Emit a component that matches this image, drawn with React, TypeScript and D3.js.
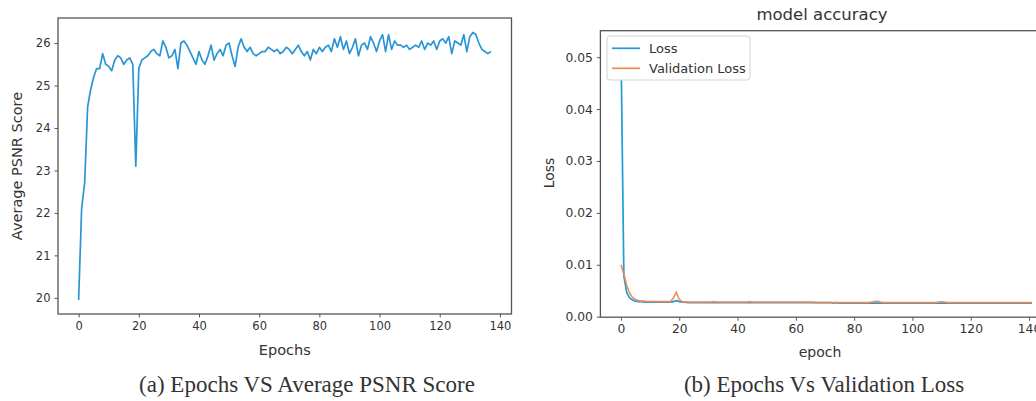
import * as d3 from "d3";
import { useEffect, useRef } from "react";

// (a) average PSNR per epoch, epochs 0..137
const psnrScores = [
  19.95, 22.1, 22.7, 24.5, 24.9, 25.2, 25.4, 25.4, 25.75, 25.5,
  25.45, 25.35, 25.6, 25.7, 25.65, 25.5, 25.6, 25.65, 25.5, 23.1,
  25.4, 25.6, 25.65, 25.7, 25.8, 25.85, 25.75, 25.7, 26.05, 25.9,
  25.65, 25.7, 25.85, 25.4, 26.0, 26.05, 25.95, 25.8, 25.65, 25.5,
  25.8, 25.6, 25.5, 25.7, 25.95, 25.6, 25.75, 25.85, 25.7, 25.95,
  26.0, 25.7, 25.45, 25.9, 26.1, 25.9, 25.8, 25.9, 25.75, 25.7,
  25.75, 25.8, 25.8, 25.9, 25.85, 25.8, 25.85, 25.75, 25.8, 25.9,
  25.85, 25.75, 25.85, 25.95, 25.8, 25.7, 25.8, 25.6, 25.85, 25.75,
  25.9, 25.8, 25.9, 25.95, 25.8, 26.1, 25.9, 26.15, 25.85, 26.05,
  25.75, 25.9, 26.1, 25.7, 25.95, 26.0, 25.85, 26.15, 26.0, 25.8,
  26.05, 26.2, 25.8, 26.2, 25.85, 26.05, 25.95, 25.95, 25.9, 25.95,
  25.85, 25.9, 25.95, 25.9, 26.05, 25.85, 26.0, 25.95, 26.05, 25.85,
  26.05, 26.1, 26.0, 26.15, 25.75, 26.05, 26.0, 25.95, 26.2, 25.8,
  26.15, 26.25, 26.2, 26.0, 25.85, 25.8, 25.75, 25.8
];

// (b) training loss / validation loss, epochs 0..141
const trainLoss = [
  0.0525, 0.0078, 0.0046, 0.0036, 0.0032, 0.0030, 0.0029, 0.0029, 0.0028, 0.0028,
  0.0028, 0.0028, 0.0028, 0.0028, 0.0028, 0.0028, 0.0028, 0.0028, 0.0029, 0.0031,
  0.0029, 0.0028, 0.0028, 0.0027, 0.0027, 0.0027, 0.0027, 0.0027, 0.0027, 0.0027,
  0.0027, 0.0027, 0.0027, 0.0027, 0.0027, 0.0027, 0.0027, 0.0027, 0.0027, 0.0027,
  0.0027, 0.0027, 0.0027, 0.0027, 0.0027, 0.0027, 0.0027, 0.0027, 0.0027, 0.0027,
  0.0027, 0.0027, 0.0027, 0.0027, 0.0027, 0.0027, 0.0027, 0.0027, 0.0027, 0.0027,
  0.0027, 0.0027, 0.0027, 0.0027, 0.0027, 0.0027, 0.0027, 0.0027, 0.0027, 0.0027,
  0.0027, 0.0027, 0.0027, 0.0026, 0.0027, 0.0026, 0.0026, 0.0026, 0.0026, 0.0026,
  0.0026, 0.0026, 0.0026, 0.0026, 0.0026, 0.0026, 0.0026, 0.0026, 0.0026, 0.0026,
  0.0026, 0.0026, 0.0026, 0.0026, 0.0026, 0.0026, 0.0026, 0.0026, 0.0026, 0.0026,
  0.0026, 0.0026, 0.0026, 0.0026, 0.0026, 0.0026, 0.0026, 0.0026, 0.0026, 0.0026,
  0.0026, 0.0026, 0.0026, 0.0026, 0.0026, 0.0026, 0.0026, 0.0026, 0.0026, 0.0026,
  0.0026, 0.0026, 0.0026, 0.0026, 0.0026, 0.0026, 0.0026, 0.0026, 0.0026, 0.0026,
  0.0026, 0.0026, 0.0026, 0.0026, 0.0026, 0.0026, 0.0026, 0.0026, 0.0026, 0.0026,
  0.0026, 0.0026
];

const valLoss = [
  0.0100, 0.0082, 0.0060, 0.0045, 0.0037, 0.0033, 0.0031, 0.0030, 0.0030, 0.0029,
  0.0029, 0.0029, 0.0029, 0.0029, 0.0029, 0.0029, 0.0029, 0.0029, 0.0036, 0.0047,
  0.0033, 0.0029, 0.0028, 0.0028, 0.0028, 0.0028, 0.0028, 0.0028, 0.0028, 0.0028,
  0.0028, 0.0028, 0.0029, 0.0028, 0.0028, 0.0028, 0.0028, 0.0028, 0.0028, 0.0028,
  0.0028, 0.0028, 0.0028, 0.0028, 0.0029, 0.0028, 0.0028, 0.0028, 0.0028, 0.0028,
  0.0028, 0.0028, 0.0028, 0.0028, 0.0028, 0.0028, 0.0028, 0.0028, 0.0028, 0.0028,
  0.0028, 0.0028, 0.0028, 0.0028, 0.0028, 0.0028, 0.0028, 0.0027, 0.0027, 0.0027,
  0.0027, 0.0027, 0.0027, 0.0027, 0.0027, 0.0027, 0.0027, 0.0027, 0.0027, 0.0027,
  0.0027, 0.0027, 0.0027, 0.0027, 0.0027, 0.0027, 0.0028, 0.0029, 0.0030, 0.0028,
  0.0027, 0.0027, 0.0027, 0.0027, 0.0027, 0.0027, 0.0027, 0.0027, 0.0027, 0.0027,
  0.0027, 0.0027, 0.0027, 0.0027, 0.0027, 0.0027, 0.0027, 0.0027, 0.0027, 0.0028,
  0.0029, 0.0028, 0.0027, 0.0027, 0.0027, 0.0027, 0.0027, 0.0027, 0.0027, 0.0027,
  0.0027, 0.0027, 0.0027, 0.0027, 0.0027, 0.0027, 0.0027, 0.0027, 0.0027, 0.0027,
  0.0027, 0.0027, 0.0027, 0.0027, 0.0027, 0.0027, 0.0027, 0.0027, 0.0027, 0.0027,
  0.0027, 0.0027
];

const psnrTicks = [20, 21, 22, 23, 24, 25, 26];
const lossTicks = [0, 0.01, 0.02, 0.03, 0.04, 0.05];
const epochTicks = [0, 20, 40, 60, 80, 100, 120, 140];
const legendLabels = ["Loss", "Validation Loss"];

const SANS = "DejaVu Sans, sans-serif";
const SERIF = "Liberation Serif, Times New Roman, serif";
const TEXT = "#333";
const SPINE = "#555";

const drawAxes = (g, xScale, yScale, xTicks, yTicks, yFmt, fontSize) => {
  const [x0, x1] = xScale.range();
  const [y0, y1] = yScale.range();

  g.append("rect")
    .attr("x", x0).attr("y", y1)
    .attr("width", x1 - x0).attr("height", y0 - y1)
    .attr("fill", "white");

  const xAxis = g.append("g")
    .attr("transform", "translate(0," + y0 + ")")
    .call(d3.axisBottom(xScale).tickValues(xTicks).tickSize(3.5).tickSizeOuter(0).tickPadding(4));
  const yAxis = g.append("g")
    .attr("transform", "translate(" + x0 + ",0)")
    .call(d3.axisLeft(yScale).tickValues(yTicks).tickFormat(yFmt).tickSize(3.5).tickSizeOuter(0).tickPadding(4));

  [xAxis, yAxis].forEach(a => {
    a.select(".domain").remove();
    a.selectAll("line").attr("stroke", SPINE).attr("stroke-width", 1);
    a.selectAll("text")
      .attr("fill", TEXT)
      .style("font-family", SANS)
      .style("font-size", fontSize + "px");
  });
};

const drawFrame = (g, xScale, yScale) => {
  const [x0, x1] = xScale.range();
  const [y0, y1] = yScale.range();
  g.append("rect")
    .attr("x", x0).attr("y", y1)
    .attr("width", x1 - x0).attr("height", y0 - y1)
    .attr("fill", "none")
    .attr("stroke", SPINE)
    .attr("stroke-width", 1.3);
};

const renderCharts = (node) => {
  const svg = d3.select(node);
  svg.selectAll("*").remove();

  // ---------- (a) PSNR ----------
  const ga = svg.append("g");
  const xA = d3.scaleLinear().domain([-6.85, 143.85]).range([58, 511.5]);
  const yA = d3.scaleLinear().domain([19.62, 26.59]).range([314, 18]);

  drawAxes(ga, xA, yA, epochTicks, psnrTicks, d3.format("d"), 11.5);

  ga.append("path")
    .datum(psnrScores)
    .attr("fill", "none")
    .attr("stroke", "#2a95d4")
    .attr("stroke-width", 1.7)
    .attr("stroke-linejoin", "round")
    .attr("d", d3.line<number>().x((d, i) => xA(i)).y(d => yA(d)));

  drawFrame(ga, xA, yA);

  ga.append("text")
    .attr("x", (xA.range()[0] + xA.range()[1]) / 2)
    .attr("y", 355)
    .attr("text-anchor", "middle")
    .attr("fill", TEXT)
    .style("font-family", SANS)
    .style("font-size", "14.5px")
    .text("Epochs");

  ga.append("text")
    .attr("transform", "translate(22,166) rotate(-90)")
    .attr("text-anchor", "middle")
    .attr("fill", TEXT)
    .style("font-family", SANS)
    .style("font-size", "14.5px")
    .text("Average PSNR Score");

  ga.append("text")
    .attr("x", 307)
    .attr("y", 392)
    .attr("text-anchor", "middle")
    .attr("fill", "#333")
    .style("font-family", SERIF)
    .style("font-size", "23px")
    .text("(a) Epochs VS Average PSNR Score");

  // ---------- (b) Loss ----------
  const gb = svg.append("g");
  const xB = d3.scaleLinear().domain([-7.05, 148.05]).range([600.4, 1052.5]);
  const yB = d3.scaleLinear().domain([-0.0001, 0.0551]).range([317.2, 30.7]);

  drawAxes(gb, xB, yB, epochTicks, lossTicks, d3.format(".2f"), 12.3);

  const lineB = d3.line<number>().x((d, i) => xB(i)).y(d => yB(d));

  gb.append("path")
    .datum(trainLoss)
    .attr("fill", "none")
    .attr("stroke", "#1f9bd7")
    .attr("stroke-width", 1.7)
    .attr("d", lineB);

  gb.append("path")
    .datum(valLoss)
    .attr("fill", "none")
    .attr("stroke", "#f0874e")
    .attr("stroke-opacity", 0.9)
    .attr("stroke-width", 1.7)
    .attr("d", lineB);

  drawFrame(gb, xB, yB);

  gb.append("text")
    .attr("x", 822)
    .attr("y", 20)
    .attr("text-anchor", "middle")
    .attr("fill", TEXT)
    .style("font-family", SANS)
    .style("font-size", "16.5px")
    .text("model accuracy");

  gb.append("text")
    .attr("x", 820)
    .attr("y", 357)
    .attr("text-anchor", "middle")
    .attr("fill", TEXT)
    .style("font-family", SANS)
    .style("font-size", "14px")
    .text("epoch");

  gb.append("text")
    .attr("transform", "translate(554,173) rotate(-90)")
    .attr("text-anchor", "middle")
    .attr("fill", TEXT)
    .style("font-family", SANS)
    .style("font-size", "14px")
    .text("Loss");

  // legend (opaque, hides the top of the loss spike as in the original)
  const legend = gb.append("g");
  legend.append("rect")
    .attr("x", 607).attr("y", 36)
    .attr("width", 143).attr("height", 44)
    .attr("rx", 3)
    .attr("fill", "white")
    .attr("fill-opacity", 0.97)
    .attr("stroke", "#d4d4d4");

  const legendColors = d3.scaleOrdinal<string>().domain(legendLabels).range(["#1f9bd7", "#f0874e"]);
  const legendY = d3.scalePoint().domain(legendLabels).range([48.3, 68.3]);

  legendLabels.forEach(label => {
    legend.append("line")
      .attr("x1", 612).attr("x2", 640)
      .attr("y1", legendY(label)).attr("y2", legendY(label))
      .attr("stroke", legendColors(label))
      .attr("stroke-width", 1.7);
    legend.append("text")
      .attr("x", 649)
      .attr("y", legendY(label))
      .attr("dy", "0.35em")
      .attr("fill", TEXT)
      .style("font-family", SANS)
      .style("font-size", "13px")
      .text(label);
  });

  gb.append("text")
    .attr("x", 824)
    .attr("y", 392)
    .attr("text-anchor", "middle")
    .attr("fill", "#333")
    .style("font-family", SERIF)
    .style("font-size", "23px")
    .text("(b) Epochs Vs Validation Loss");
};

const App = () => {
  const ref = useRef<SVGSVGElement>(null);

  useEffect(() => {
    document.body.style.margin = "0";
    if (ref.current) renderCharts(ref.current);
  });

  return (
    <svg ref={ref} width={1036} height={401}
      style={{ display: "block", background: "white", overflow: "hidden" }} />
  );
};

export default App;
